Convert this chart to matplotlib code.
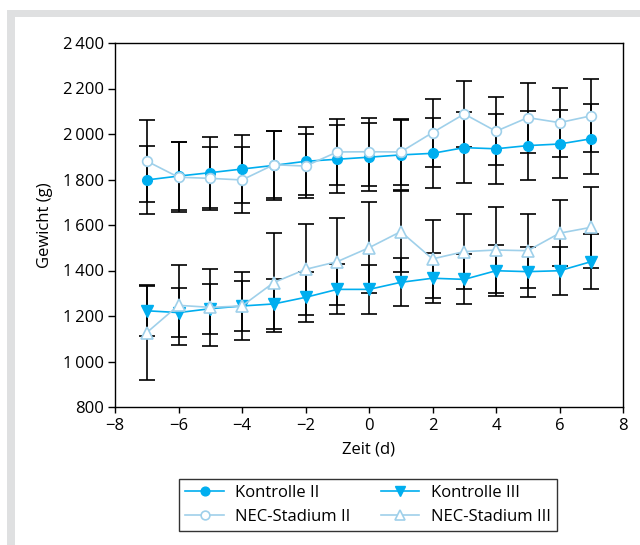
import matplotlib
matplotlib.use('Agg')
import matplotlib.pyplot as plt
from matplotlib.patches import Rectangle

days = [-7, -6, -5, -4, -3, -2, -1, 0, 1, 2, 3, 4, 5, 6, 7]

kontrolle_ii = [1798, 1815, 1830, 1846, 1862, 1880, 1889, 1898, 1908, 1915, 1940, 1935, 1949, 1956, 1979]
kontrolle_ii_err = [150, 150, 155, 150, 150, 150, 150, 150, 152, 154, 157, 154, 152, 150, 153]
nec_ii = [1881, 1810, 1805, 1798, 1865, 1859, 1921, 1922, 1921, 2006, 2088, 2012, 2072, 2050, 2080]
nec_ii_err = [182, 155, 137, 147, 148, 140, 143, 149, 145, 150, 146, 150, 154, 152, 160]

kontrolle_iii = [1223, 1215, 1232, 1244, 1253, 1282, 1317, 1317, 1348, 1366, 1361, 1399, 1395, 1399, 1439]
kontrolle_iii_err = [110, 108, 110, 110, 110, 110, 110, 108, 106, 110, 110, 113, 110, 106, 121]
nec_iii = [1127, 1247, 1238, 1244, 1347, 1405, 1439, 1500, 1571, 1451, 1483, 1490, 1487, 1564, 1590]
nec_iii_err = [210, 175, 170, 148, 218, 200, 190, 200, 178, 172, 166, 190, 162, 144, 177]

y_ticks = [800, 1000, 1200, 1400, 1600, 1800, 2000, 2200, 2400]
y_ticklabels = ['800', '1\u2009000', '1\u2009200', '1\u2009400', '1\u2009600',
                '1\u2009800', '2\u2009000', '2\u2009200', '2\u2009400']
x_ticks = [-8, -6, -4, -2, 0, 2, 4, 6, 8]

c_dark = '#00aeef'
c_light = '#9fd0ea'

plt.rcParams['font.family'] = ['Open Sans', 'DejaVu Sans']
plt.rcParams['font.size'] = 12

fig = plt.figure(figsize=(6.4, 5.45), dpi=100)
W, H = 640, 545

# grey frame at top and left
fig.patches.append(Rectangle((7 / W, 0), 8 / W, (H - 10) / H, transform=fig.transFigure,
                             color='#dfe0e1', lw=0, zorder=0))
fig.patches.append(Rectangle((7 / W, (H - 17) / H), (W - 7) / W, 7 / H, transform=fig.transFigure,
                             color='#dfe0e1', lw=0, zorder=0))

ax = fig.add_axes([115 / W, (H - 407) / H, 508 / W, 364 / H])

for y, e in [(kontrolle_ii, kontrolle_ii_err), (nec_ii, nec_ii_err),
             (kontrolle_iii, kontrolle_iii_err), (nec_iii, nec_iii_err)]:
    ax.errorbar(days, y, yerr=e, fmt='none', ecolor='black', elinewidth=1.2,
                capsize=6, capthick=1.2, zorder=2)

l1, = ax.plot(days, kontrolle_ii, color=c_dark, lw=1.2, marker='o', ms=7,
              mfc=c_dark, mec=c_dark, zorder=3, label='Kontrolle II')
l2, = ax.plot(days, nec_ii, color=c_light, lw=1.2, marker='o', ms=7,
              mfc='white', mec=c_light, mew=1.2, zorder=3, label='NEC-Stadium II')
l3, = ax.plot(days, kontrolle_iii, color=c_dark, lw=1.2, marker='v', ms=8,
              mfc=c_dark, mec=c_dark, zorder=3, label='Kontrolle III')
l4, = ax.plot(days, nec_iii, color=c_light, lw=1.2, marker='^', ms=8,
              mfc='white', mec=c_light, mew=1.2, zorder=3, label='NEC-Stadium III')

ax.set_xlim(-8, 8)
ax.set_ylim(800, 2400)
ax.set_xticks(x_ticks)
ax.set_yticks(y_ticks)
ax.set_yticklabels(y_ticklabels)
ax.tick_params(axis='y', direction='out', length=5, width=1, pad=3)
ax.tick_params(axis='x', direction='out', length=4, width=1, pad=4)
for s in ax.spines.values():
    s.set_linewidth(1)
ax.set_xlabel('Zeit (d)', labelpad=5)
ax.set_ylabel('Gewicht (g)', labelpad=7)

leg = fig.legend([l1, l2, l3, l4], ['Kontrolle II', 'NEC-Stadium II', 'Kontrolle III', 'NEC-Stadium III'],
                 loc='center', bbox_to_anchor=(368 / W, (H - 505) / H), ncol=2, frameon=True,
                 fancybox=False, edgecolor='black', handlelength=2.3, handletextpad=0.7,
                 columnspacing=1.8, labelspacing=0.45, borderpad=0.4, markerscale=0.9)
leg.get_frame().set_linewidth(1)

fig.savefig('out.png', dpi=100)
